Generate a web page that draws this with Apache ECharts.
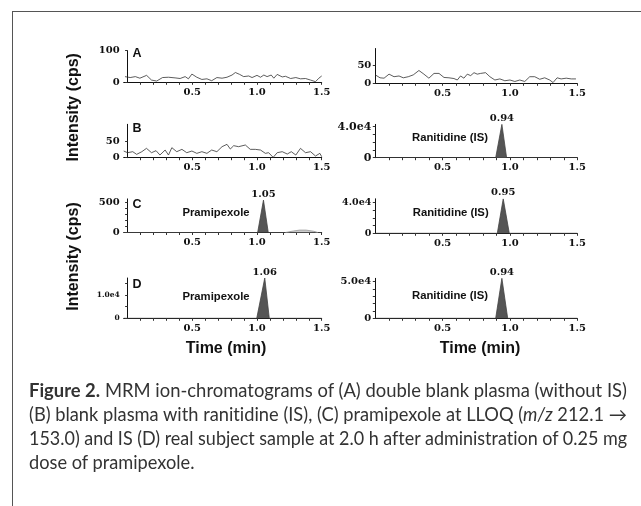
<!DOCTYPE html>
<html><head><meta charset="utf-8">
<script src="https://cdn.jsdelivr.net/npm/echarts@6/dist/echarts.min.js"></script>
<style>
html,body{margin:0;padding:0;background:#fff;}
#wrap{position:relative;width:641px;height:506px;overflow:hidden;background:#fff;}
#chart{position:absolute;left:0;top:0;width:641px;height:506px;}
#frame{position:absolute;left:12px;top:11px;width:660px;height:520px;border-top:1.6px solid #555;border-left:1.6px solid #555;pointer-events:none;}
#cap{position:absolute;left:29px;top:378px;width:700px;font-family:Lato,"Open Sans",sans-serif;font-size:18.5px;line-height:24px;color:#333;font-weight:normal;font-variant-ligatures:none;}
#cap .ln{display:block;height:24px;}
#cap .ln span{display:inline-block;white-space:nowrap;transform-origin:0 0;}
#cap b{font-weight:bold;}
</style>
</head><body>
<div id="wrap">
<div id="chart"></div>
<div id="frame"></div>
<div id="cap">
<div class="ln"><span><b>Figure 2.</b> MRM ion-chromatograms of (A) double blank plasma (without IS)</span></div>
<div class="ln"><span>(B) blank plasma with ranitidine (IS), (C) pramipexole at LLOQ (<i>m/z</i> 212.1 →</span></div>
<div class="ln"><span>153.0) and IS (D) real subject sample at 2.0 h after administration of 0.25 mg</span></div>
<div class="ln"><span>dose of pramipexole.</span></div>
</div>
</div>
<script>
// ---------- data ----------
const xLabelValues = [0.5, 1.0, 1.5];
const xTickValues = [0.1,0.2,0.3,0.4,0.5,0.6,0.7,0.8,0.9,1.0,1.1,1.2,1.3,1.4,1.5];

// Panel A left: double blank, pramipexole channel (noise)
const noiseAL_t = [-0.02,0.02,0.06,0.095,0.147,0.185,0.225,0.27,0.316,0.367,0.406,0.445,0.47,0.497,0.535,0.574,0.613,0.65,0.69,0.73,0.768,0.807,0.833,0.866,0.897,0.936,0.962,1.0,1.027,1.053,1.078,1.11,1.13,1.156,1.195,1.22,1.26,1.3,1.336,1.375,1.414,1.452,1.478,1.5];
const noiseAL_v = [18,15,18,13,22,7,4,15,16,14,12,18,11,26,16,9,11,5,15,13,16,23,31,25,18,20,15,22,16,23,18,23,13,25,17,19,12,15,11,12,7,2,13,20];

// Panel A right: double blank, IS channel (noise)
const noiseAR_t = [0,0.035,0.065,0.102,0.139,0.176,0.208,0.245,0.282,0.324,0.361,0.398,0.436,0.473,0.51,0.547,0.584,0.609,0.633,0.658,0.683,0.708,0.733,0.757,0.782,0.819,0.851,0.888,0.925,0.962,1.0,1.036,1.073,1.11,1.147,1.184,1.221,1.258,1.295,1.32,1.35,1.38,1.418,1.455,1.49];
const noiseAR_v = [23,15,14,25,18,20,15,18,23,35,25,14,27,27,16,15,13,9,20,14,25,21,29,25,27,29,18,9,12,7,9,5,9,5,18,18,11,15,9,2,15,12,14,12,12];

// Panel B left: blank + IS, pramipexole channel (noise)
const noiseBL_t = [-0.03,0.0,0.04,0.07,0.11,0.146,0.185,0.22,0.25,0.29,0.316,0.342,0.38,0.42,0.457,0.497,0.535,0.574,0.613,0.65,0.69,0.73,0.768,0.794,0.82,0.858,0.91,0.948,0.987,1.027,1.065,1.09,1.125,1.156,1.195,1.234,1.265,1.3,1.336,1.375,1.414,1.452,1.486,1.5];
const noiseBL_v = [20,15,18,10,18,28,15,21,8,23,8,30,18,25,15,20,13,18,13,23,18,33,40,26,36,33,38,25,25,23,13,15,1,15,18,11,18,8,28,15,18,5,13,3];

// Peaks: [start, apex, end] times and apex heights
const peakBR = {t: [0.894, 0.94, 0.975], h: 43000, label: "0.94"};
const peakCL = {t: [1.005, 1.05, 1.087], h: 540, label: "1.05"};
const peakCR = {t: [0.906, 0.95, 0.995], h: 44500, label: "0.95"};
const peakDL = {t: [0.998, 1.06, 1.095], h: 17300, label: "1.06"};
const peakDR = {t: [0.894, 0.94, 0.983], h: 54600, label: "0.94"};

// small late-eluting bump in panel C left
const bumpCL_t = [1.22, 1.28, 1.33, 1.38, 1.44, 1.47];
const bumpCL_v = [0, 25, 40, 40, 20, 0];

// y axis ranges and labelled ticks
const yMax = {AL: 100, AR: 95, BL: 100, BR: 43000, CL: 560, CR: 44500, DL: 17300, DR: 54600};
const yLabels = {AL: [0,100], AR: [0,50], BL: [0,50], BR: [0,40000], CL: [0,500], CR: [0,40000], DL: [0,10000], DR: [0,50000]};
const yMinor = {AL: [], AR: [], BL: [], BR: [10000,20000,30000], CL: [100,200,300,400], CR: [10000,20000,30000], DL: [5000,15000], DR: [10000,20000,30000,40000]};

// ---------- caption fitting (justify each full line to the text block width) ----------
(function(){
  const lines = document.querySelectorAll('#cap .ln span');
  const target = 598;
  const scales = [];
  lines.forEach((s, i) => { if (i < 3) scales.push(target / s.getBoundingClientRect().width); });
  const avg = scales.reduce((a,b)=>a+b,0) / scales.length;
  lines.forEach((s, i) => { s.style.transform = 'scaleX(' + (i < 3 ? scales[i] : avg) + ')'; });
})();

// ---------- layout ----------
const L = {left: 123.7, width: 198, min: -0.03};
const R = {left: 375.3, width: 202, min: 0};
const panels = [
  {key:'AL', col:L, zero:82.3},
  {key:'AR', col:R, zero:83.3},
  {key:'BL', col:L, zero:157.7},
  {key:'BR', col:R, zero:157.7},
  {key:'CL', col:L, zero:232.5},
  {key:'CR', col:R, zero:233.3},
  {key:'DL', col:L, zero:318.3},
  {key:'DR', col:R, zero:318.3}
];
const pxPerUnit = {AL:0.316, AR:0.366, BL:0.334, BR:31/40000, CL:0.06, CR:31/40000, DL:23.3/10000, DR:36.6/50000};
const yLabelSize = {AL:10, AR:10, BL:10, BR:11, CL:10, CR:9.5, DL:7.5, DR:10};

const serif = '"DejaVu Serif", serif';
const sans = '"Liberation Sans", Arial, sans-serif';

function fmtY(v){
  if (v === 0) return '0';
  if (v >= 1000){ const e = Math.floor(Math.log10(v)); return (v/Math.pow(10,e)).toFixed(1)+'e'+e; }
  return String(v);
}
function zip(t, v){ return t.map((x,i)=>[x, v[i]]); }
function peakData(p){ return [[p.t[0],0],[p.t[1],p.h],[p.t[2],0]]; }

const grid = [], xAxis = [], yAxis = [], series = [];
panels.forEach((p, i) => {
  const h = yMax[p.key] * pxPerUnit[p.key];
  grid.push({left: p.col.left, width: p.col.width, top: p.zero - h, height: h, containLabel: false});
  xAxis.push({
    type: 'value', gridIndex: i, min: p.col.min, max: 1.5,
    axisLine: {show: true, onZero: false, lineStyle: {color: '#111', width: 1}},
    axisTick: {show: true, customValues: xTickValues, length: 2.5, lineStyle: {color: '#333', width: 1}},
    axisLabel: {customValues: xLabelValues, formatter: v => v.toFixed(1), margin: 5,
      fontFamily: serif, fontWeight: 'bold', fontSize: 10, color: '#111'},
    splitLine: {show: false}
  });
  yAxis.push({
    type: 'value', gridIndex: i, min: 0, max: yMax[p.key],
    axisLine: {show: true, lineStyle: {color: '#111', width: 1}},
    axisTick: {show: true, customValues: yLabels[p.key].concat(yMinor[p.key]), length: 2.5, lineStyle: {color: '#333'}},
    axisLabel: {customValues: yLabels[p.key], formatter: fmtY, margin: 4,
      fontFamily: serif, fontWeight: 'bold', fontSize: yLabelSize[p.key], color: '#111'},
    splitLine: {show: false}
  });
});

function noise(i, t, v){
  return {type:'line', xAxisIndex:i, yAxisIndex:i, data: zip(t,v), symbol:'none',
    lineStyle:{color:'#333', width:0.8}, silent:true, animation:false};
}
function peak(i, p, xmin){
  const d = [[xmin,0]].concat(peakData(p)).concat([[1.5,0]]);
  return {type:'line', xAxisIndex:i, yAxisIndex:i, data: d, symbol:'none',
    lineStyle:{color:'#444', width:0.8}, areaStyle:{color:'#555', opacity:1},
    silent:true, animation:false,
    markPoint:{symbol:'circle', symbolSize:0, animation:false,
      data:[{coord:[p.t[1], p.h], value:p.label}],
      label:{show:true, position:'top', distance:1, formatter:p.label,
        fontFamily:serif, fontWeight:'bold', fontSize:10, color:'#111'}}};
}
series.push(noise(0, noiseAL_t, noiseAL_v));
series.push(noise(1, noiseAR_t, noiseAR_v));
series.push(noise(2, noiseBL_t, noiseBL_v));
series.push(peak(3, peakBR, 0));
series.push(peak(4, peakCL, -0.03));
series.push({type:'line', xAxisIndex:4, yAxisIndex:4, data: zip(bumpCL_t,bumpCL_v), symbol:'none',
  lineStyle:{color:'#999', width:0.8}, areaStyle:{color:'#ccc', opacity:1}, silent:true, animation:false});
series.push(peak(5, peakCR, 0));
series.push(peak(6, peakDL, -0.03));
series.push(peak(7, peakDR, 0));

function txt(x, y, s, size, opts){
  return Object.assign({type:'text', x:x, y:y, silent:true,
    style:{text:s, fontFamily:sans, fontWeight:'bold', fontSize:size, fill:'#111',
      align:'center', verticalAlign:'middle'}}, opts||{});
}
const graphic = [
  txt(137, 53.5, 'A', 12.5), txt(137, 129, 'B', 12.5), txt(137, 205, 'C', 12.5), txt(137, 285, 'D', 12.5),
  txt(450, 138.3, 'Ranitidine (IS)', 11.3), txt(450.7, 213.3, 'Ranitidine (IS)', 11.3), txt(450, 295.5, 'Ranitidine (IS)', 11.3),
  txt(216, 213.3, 'Pramipexole', 11.3), txt(216, 296.7, 'Pramipexole', 11.3),
  txt(226, 348.3, 'Time (min)', 16), txt(480, 348.3, 'Time (min)', 16),
  txt(74, 107.3, 'Intensity (cps)', 16, {rotation: Math.PI/2}),
  txt(74, 256.5, 'Intensity (cps)', 16, {rotation: Math.PI/2})
];

const chart = echarts.init(document.getElementById('chart'), null, {renderer:'canvas'});
chart.setOption({animation:false, backgroundColor:'transparent', grid, xAxis, yAxis, series, graphic});
</script>
</body></html>
